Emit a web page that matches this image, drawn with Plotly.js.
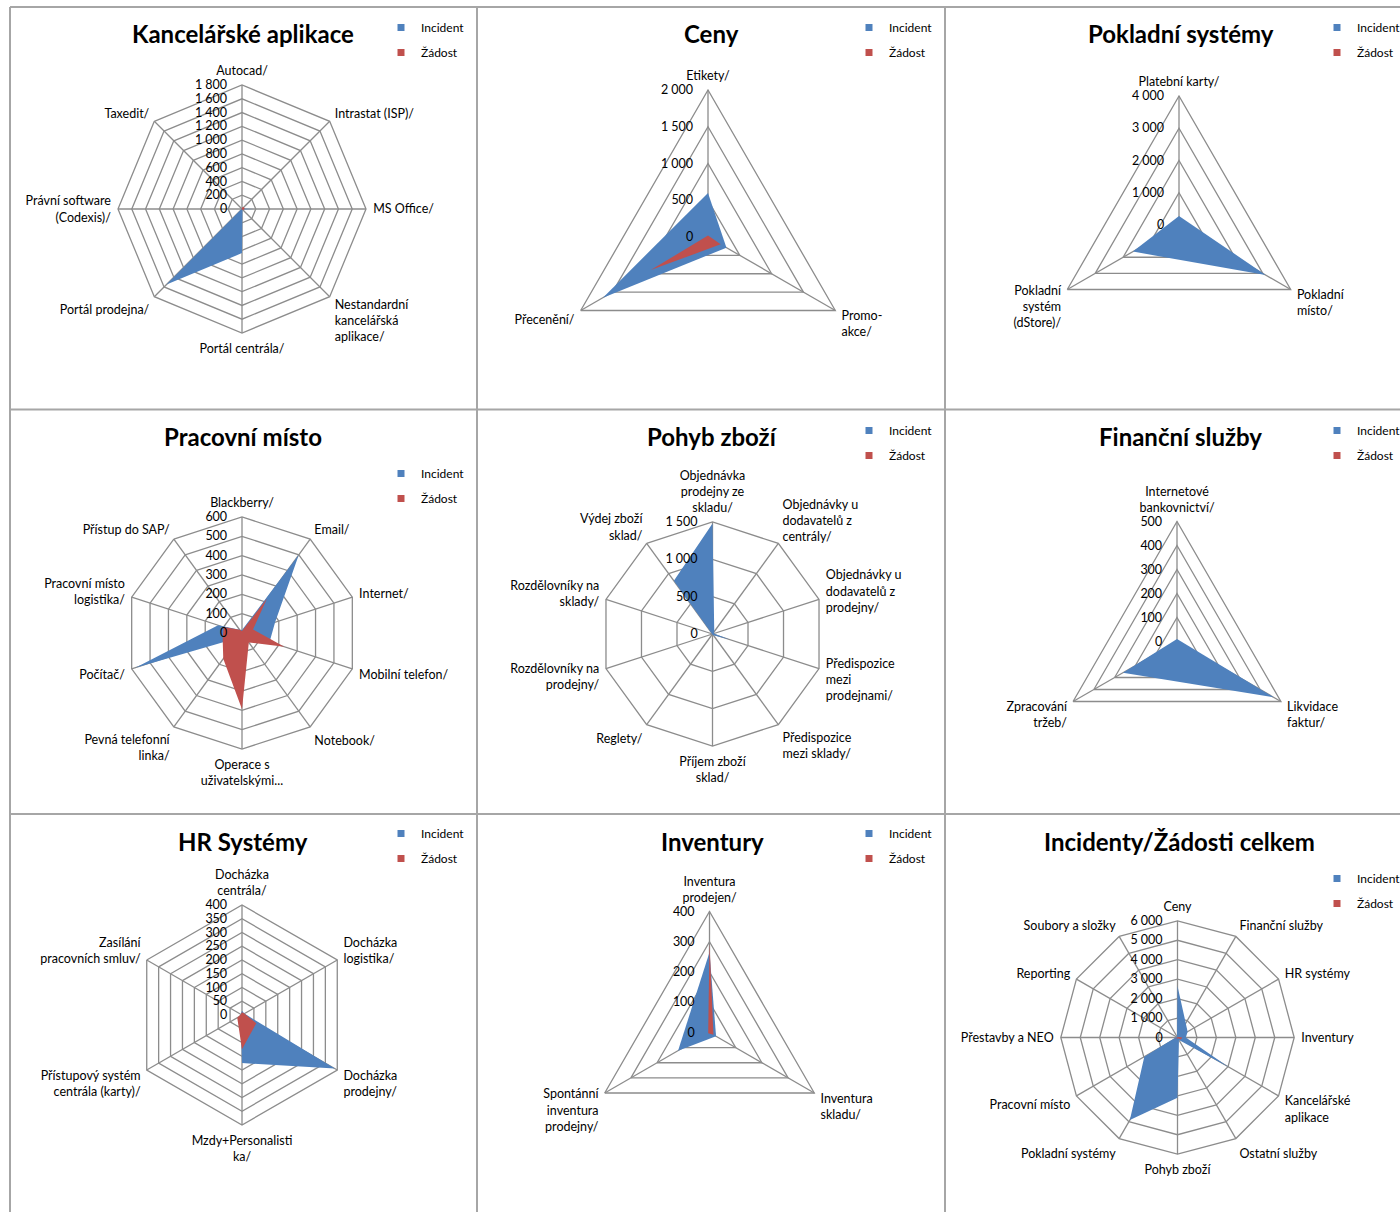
<!DOCTYPE html>
<html><head><meta charset="utf-8">
<script src="https://cdn.plot.ly/plotly-3.0.1.min.js"></script>
<style>html,body{margin:0;padding:0;background:#fff}#chart{width:1400px;height:1212px}</style>
</head><body><div id="chart"></div>
<script>
// ---------------- DATA ----------------
const seriesNames = ['Incident', 'Žádost'];

const kancCats = ['Autocad/', 'Intrastat (ISP)/', 'MS Office/', 'Nestandardní<br>kancelářská<br>aplikace/', 'Portál centrála/', 'Portál prodejna/', 'Právní software<br>(Codexis)/', 'Taxedit/'];
const kancIncident = [10, 10, 170, 10, 640, 1550, 5, 5];
const kancZadost = [20, 40, 40, 20, 10, 5, 5, 5];

const cenyCats = ['Etikety/', 'Promo-<br>akce/', 'Přecenění/'];
const cenyIncident = [600, 290, 1650];
const cenyZadost = [20, 200, 900];

const poklCats = ['Platební karty/', 'Pokladní<br>místo/', 'Pokladní<br>systém<br>(dStore)/'];
const poklIncident = [280, 3100, 1650];
const poklZadost = [0, 0, 0];

const pracCats = ['Blackberry/', 'Email/', 'Internet/', 'Mobilní telefon/', 'Notebook/', 'Operace s<br>uživatelskými...', 'Pevná telefonní<br>linka/', 'Počítač/', 'Pracovní místo<br>logistika/', 'Přístup do SAP/'];
const pracIncident = [15, 500, 180, 150, 30, 40, 30, 580, 130, 20];
const pracZadost = [10, 220, 60, 230, 60, 395, 165, 105, 100, 20];

const pohybCats = ['Objednávka<br>prodejny ze<br>skladu/', 'Objednávky u<br>dodavatelů z<br>centrály/', 'Objednávky u<br>dodavatelů z<br>prodejny/', 'Předispozice<br>mezi<br>prodejnami/', 'Předispozice<br>mezi sklady/', 'Příjem zboží<br>sklad/', 'Reglety/', 'Rozdělovníky na<br>prodejny/', 'Rozdělovníky na<br>sklady/', 'Výdej zboží<br>sklad/'];
const pohybIncident = [1480, 40, 20, 240, 20, 10, 5, 5, 5, 880];
const pohybZadost = [0, 0, 0, 0, 0, 0, 0, 0, 0, 0];

const finCats = ['Internetové<br>bankovnictví/', 'Likvidace<br>faktur/', 'Zpracování<br>tržeb/'];
const finIncident = [10, 465, 260];
const finZadost = [0, 0, 0];

const hrCats = ['Docházka<br>centrála/', 'Docházka<br>logistika/', 'Docházka<br>prodejny/', 'Mzdy+Personalisti<br>ka/', 'Přístupový systém<br>centrála (karty)/', 'Zasílání<br>pracovních smluv/'];
const hrIncident = [15, 10, 390, 175, 5, 5];
const hrZadost = [10, 10, 60, 125, 20, 5];

const invCats = ['Inventura<br>prodejen/', 'Inventura<br>skladu/', 'Spontánní<br>inventura<br>prodejny/'];
const invIncident = [265, 25, 120];
const invZadost = [295, 15, 5];

const celkCats = ['Ceny', 'Finanční služby', 'HR systémy', 'Inventury', 'Kancelářské<br>aplikace', 'Ostatní služby', 'Pohyb zboží', 'Pokladní systémy', 'Pracovní místo', 'Přestavby a NEO', 'Reporting', 'Soubory a složky'];
const celkIncident = [2650, 850, 600, 430, 3050, 150, 3100, 4900, 1970, 100, 50, 50];
const celkZadost = [20, 30, 60, 250, 200, 50, 100, 30, 200, 20, 10, 10];

const titles = ['Kancelářské aplikace', 'Ceny', 'Pokladní systémy', 'Pracovní místo', 'Pohyb zboží', 'Finanční služby', 'HR Systémy', 'Inventury', 'Incidenty/Žádosti celkem'];
const radialMax = [1800, 2000, 4000, 600, 1500, 500, 400, 400, 6000];
const radialStep = [200, 500, 1000, 100, 500, 100, 50, 100, 1000];

// ---------------- LAYOUT CONFIG ----------------
const W = 1400, H = 1212;
const BLUE = '#4F81BD', RED = '#C0504D', GRID = '#8C8C8C', FONT = 'Lato, "Open Sans", sans-serif';
const panelData = [
  [kancCats, kancIncident, kancZadost],
  [cenyCats, cenyIncident, cenyZadost],
  [poklCats, poklIncident, poklZadost],
  [pracCats, pracIncident, pracZadost],
  [pohybCats, pohybIncident, pohybZadost],
  [finCats, finIncident, finZadost],
  [hrCats, hrIncident, hrZadost],
  [invCats, invIncident, invZadost],
  [celkCats, celkIncident, celkZadost]
];
// geometry (pixels): polar centre, radius, title centre, legend top-left
const geom = [
  {cx: 242, cy: 209, r: 124, tx: 243, ty: 33, lx: 381, ly: 13},
  {cx: 708, cy: 237, r: 147, tx: 711, ty: 33, lx: 849, ly: 13},
  {cx: 1179, cy: 225, r: 129, tx: 1181, ty: 33, lx: 1317, ly: 13},
  {cx: 242, cy: 633, r: 116, tx: 243, ty: 436, lx: 381, ly: 459},
  {cx: 712.5, cy: 634, r: 112, tx: 712, ty: 436, lx: 849, ly: 416},
  {cx: 1177, cy: 641.5, r: 120, tx: 1180, ty: 436, lx: 1317, ly: 416},
  {cx: 242, cy: 1015, r: 110, tx: 243, ty: 841, lx: 381, ly: 819},
  {cx: 709.5, cy: 1032.5, r: 121, tx: 712, ty: 841, lx: 849, ly: 819},
  {cx: 1177.5, cy: 1037.5, r: 116.7, tx: 1179, ty: 841, lx: 1317, ly: 864}
];

const traces = [];
const layout = {
  width: W, height: H,
  margin: {l: 0, r: 0, t: 0, b: 0, autoexpand: false},
  paper_bgcolor: '#fff',
  separators: ', ',
  font: {family: FONT, size: 12, color: '#000'},
  showlegend: true,
  annotations: [], shapes: []
};

panelData.forEach((pd, i) => {
  const sfx = i === 0 ? '' : String(i + 1);
  const sub = 'polar' + sfx;
  const leg = 'legend' + sfx;
  const g = geom[i];
  const [cats, inc, zad] = pd;
  [inc, zad].forEach((vals, k) => {
    const col = k === 0 ? BLUE : RED;
    traces.push({
      type: 'scatterpolar', subplot: sub, r: vals, theta: cats,
      mode: 'lines', fill: 'toself', fillcolor: col,
      line: {width: 0, color: col}, name: seriesNames[k],
      legendgroup: sub + 'g' + k, showlegend: false,
      hovertemplate: '%{theta}: %{r}<extra>' + seriesNames[k] + '</extra>'
    });
  });
  // legend entries (square swatches, as in the original legend); no visible mark
  [BLUE, RED].forEach((col, k) => {
    traces.push({
      type: 'scatterpolar', subplot: sub, r: [null], theta: [cats[0]], mode: 'markers',
      marker: {symbol: 'square', size: 7, color: col},
      name: seriesNames[k], legend: leg, legendgroup: sub + 'g' + k, showlegend: true,
      hoverinfo: 'skip'
    });
  });
  layout[sub] = {
    domain: {x: [(g.cx - g.r) / W, (g.cx + g.r) / W], y: [1 - (g.cy + g.r) / H, 1 - (g.cy - g.r) / H]},
    bgcolor: 'rgba(0,0,0,0)',
    gridshape: 'linear',
    layer: 'above traces',
    angularaxis: {
      type: 'category', categoryorder: 'array', categoryarray: cats,
      direction: 'clockwise', rotation: 90,
      showline: true, linecolor: GRID, linewidth: 1.3,
      gridcolor: GRID, gridwidth: 1.3,
      ticks: 'outside', ticklen: 4, tickcolor: 'rgba(0,0,0,0)',
      tickfont: {family: FONT, size: 12.5, color: '#000'}
    },
    radialaxis: {
      range: [0, radialMax[i]], dtick: radialStep[i], tick0: 0,
      angle: 90, side: 'counterclockwise', tickangle: 90,
      showline: false, gridcolor: GRID, gridwidth: 1.3,
      ticks: 'outside', ticklen: 10, tickcolor: 'rgba(0,0,0,0)',
      tickformat: ',d', separatethousands: true,
      tickfont: {family: FONT, size: 12.5, color: '#000'}
    }
  };
  layout[leg] = {
    x: g.lx / W, y: 1 - g.ly / H, xanchor: 'left', yanchor: 'top',
    bgcolor: 'rgba(0,0,0,0)', borderwidth: 0, itemwidth: 30,
    traceorder: 'grouped', tracegroupgap: 6,
    font: {family: FONT, size: 12, color: '#000'}
  };
  layout.annotations.push({
    text: titles[i], xref: 'paper', yref: 'paper', x: g.tx / W, y: 1 - g.ty / H,
    xanchor: 'center', yanchor: 'middle', showarrow: false,
    font: {family: FONT, size: 24, color: '#000', weight: 700}
  });
});

// panel borders
const vx = [10, 477, 945];
const hy = [7, 409.5, 814];
vx.forEach(x => layout.shapes.push({type: 'line', xref: 'paper', yref: 'paper', x0: x / W, x1: x / W, y0: 0, y1: 1 - 7 / H, line: {color: '#A6A6A6', width: 2}}));
hy.forEach(y => layout.shapes.push({type: 'line', xref: 'paper', yref: 'paper', x0: 10 / W, x1: 1, y0: 1 - y / H, y1: 1 - y / H, line: {color: '#A6A6A6', width: 2}}));

Plotly.newPlot('chart', traces, layout, {staticPlot: true});
</script>
</body></html>
